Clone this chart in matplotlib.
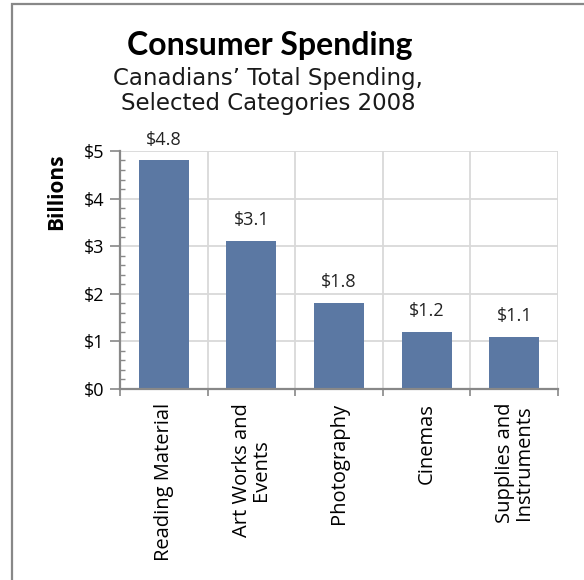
import numpy as np
import matplotlib
matplotlib.use("Agg")
import matplotlib.pyplot as plt
from matplotlib.ticker import MultipleLocator, FuncFormatter
from matplotlib.patches import Rectangle

categories = ["Reading Material", "Art Works and\nEvents", "Photography",
              "Cinemas", "Supplies and\nInstruments"]
spending = [4.8, 3.1, 1.8, 1.2, 1.1]
value_labels = ["$4.8", "$3.1", "$1.8", "$1.2", "$1.1"]

bar_color = "#5b78a3"
grid_color = "#d9d9d9"
axis_color = "#888888"
label_font = ["Open Sans", "DejaVu Sans"]

fig = plt.figure(figsize=(5.84, 5.80), dpi=100)
ax = fig.add_axes([0.2055, 0.3293, 0.75, 0.4104])

x = np.arange(len(categories))
ax.bar(x, spending, width=0.57, color=bar_color, zorder=3)

for xi, val, txt in zip(x, spending, value_labels):
    ax.annotate(txt, (xi, val), xytext=(0, 11.5), textcoords="offset points",
                ha="center", va="baseline", fontsize=13,
                family=label_font, color="#222222")

ax.set_xlim(-0.5, len(categories) - 0.5)
ax.set_ylim(0, 5)

# category labels at centres, boundary ticks + gridlines as minor ticks
ax.set_xticks(x)
ax.set_xticklabels(categories, rotation=90, ha="center", va="top",
                   fontsize=14.5, family=label_font, multialignment="center",
                   linespacing=0.95)
ax.set_xticks(np.arange(-0.5, len(categories)), minor=True)
ax.tick_params(axis="x", which="major", length=0, pad=10)
ax.tick_params(axis="x", which="minor", length=5, width=1.2,
               color=axis_color, direction="out")

ax.yaxis.set_major_locator(MultipleLocator(1))
ax.yaxis.set_minor_locator(MultipleLocator(0.2))
ax.yaxis.set_major_formatter(FuncFormatter(lambda v, p: f"${v:.0f}"))
ax.tick_params(axis="y", which="major", length=7, width=1.2,
               color=axis_color, direction="out", labelsize=13, pad=4)
ax.tick_params(axis="y", which="minor", length=3.5, width=1.0,
               color=axis_color, direction="in")
for lab in ax.get_yticklabels():
    lab.set_family(label_font)

ax.grid(axis="y", which="major", color=grid_color, linewidth=1.3, zorder=0)
ax.grid(axis="x", which="minor", color=grid_color, linewidth=1.3, zorder=0)
ax.set_axisbelow(True)

for side in ["top", "right"]:
    ax.spines[side].set_visible(False)
for side in ["left", "bottom"]:
    ax.spines[side].set_color(axis_color)
    ax.spines[side].set_linewidth(1.6)
    ax.spines[side].set_zorder(4)

fig.text(57 / 584, 1 - 192 / 580, "Billions", rotation=90, ha="center",
         va="center", fontsize=15, fontweight="bold",
         family=label_font)

fig.text(270 / 584, 1 - 55 / 580, "Consumer Spending", ha="center",
         va="baseline", fontsize=23, fontweight="bold",
         family=["Lato", "DejaVu Sans"])
fig.text(268 / 584, 1 - 85 / 580, "Canadians\u2019 Total Spending,",
         ha="center", va="baseline", fontsize=16.5, color="#1a1a1a",
         family=["DejaVu Sans"])
fig.text(268 / 584, 1 - 110 / 580, "Selected Categories 2008",
         ha="center", va="baseline", fontsize=16.5, color="#1a1a1a",
         family=["DejaVu Sans"])

# outer frame (only top and left edges fall inside the image)
fig.patches.append(Rectangle((11.5 / 584, -0.1), 1.2, 1 - 4.5 / 580 + 0.1,
                             transform=fig.transFigure, fill=False,
                             edgecolor=axis_color, linewidth=1.6))

fig.savefig("out.png", dpi=100)
